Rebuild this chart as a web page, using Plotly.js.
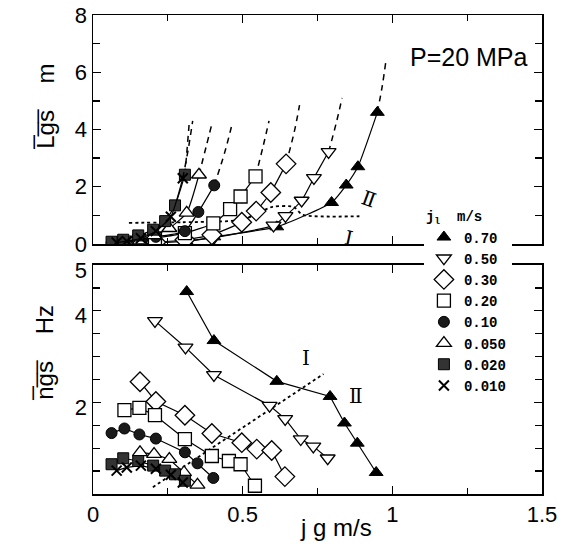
<!DOCTYPE html>
<html>
<head>
<meta charset="utf-8">
<script src="https://cdn.plot.ly/plotly-3.0.1.min.js"></script>
<style>html,body{margin:0;padding:0;background:#fff;}</style>
</head>
<body>
<div id="chart" style="width:570px;height:547px;"></div>
<script>
// ---- series labels (liquid superficial velocity j_l, m/s)
const seriesLabels = ['0.70', '0.50', '0.30', '0.20', '0.10', '0.050', '0.020', '0.010'];

// ---- lower panel: mean slug frequency n_gs (Hz) vs j_g (m/s)
const nX70 = [0.313, 0.404, 0.614, 0.792, 0.840, 0.883, 0.946];
const nY70 = [4.42, 3.35, 2.46, 2.13, 1.55, 1.11, 0.47];
const nX50 = [0.207, 0.309, 0.404, 0.590, 0.642, 0.694, 0.736, 0.784];
const nY50 = [3.78, 3.20, 2.60, 1.93, 1.64, 1.20, 1.04, 0.78];
const nX30 = [0.157, 0.210, 0.307, 0.397, 0.497, 0.547, 0.597, 0.641];
const nY30 = [2.45, 2.02, 1.72, 1.32, 1.12, 0.98, 0.95, 0.38];
const nX20 = [0.105, 0.155, 0.207, 0.307, 0.397, 0.454, 0.493, 0.541];
const nY20 = [1.83, 1.88, 1.72, 1.20, 0.83, 0.72, 0.65, 0.18];
const nX10 = [0.062, 0.105, 0.155, 0.210, 0.307, 0.349, 0.402];
const nY10 = [1.33, 1.43, 1.30, 1.21, 0.91, 0.67, 0.35];
const nX05 = [0.157, 0.204, 0.255, 0.304, 0.349];
const nY05 = [0.91, 0.87, 0.76, 0.47, 0.20];
const nX02 = [0.062, 0.101, 0.151, 0.201, 0.241, 0.274, 0.307];
const nY02 = [0.65, 0.78, 0.72, 0.62, 0.51, 0.43, 0.29];
const nX01 = [0.079, 0.113, 0.160, 0.210, 0.260, 0.300];
const nY01 = [0.51, 0.58, 0.62, 0.55, 0.42, 0.25];

// ---- upper panel: mean slug length L_gs (m) vs j_g (m/s)
const lX70 = [0.313, 0.404, 0.614, 0.797, 0.846, 0.885, 0.950];
const lY70 = [0.08, 0.25, 0.60, 1.45, 2.06, 2.70, 4.60];
const lX50 = [0.207, 0.309, 0.404, 0.603, 0.643, 0.697, 0.738, 0.787];
const lY50 = [0.03, 0.10, 0.22, 0.65, 0.98, 1.52, 2.31, 3.22];
const lX30 = [0.157, 0.210, 0.307, 0.397, 0.497, 0.545, 0.594, 0.645];
const lY30 = [0.03, 0.06, 0.15, 0.32, 0.76, 1.15, 1.80, 2.80];
const lX20 = [0.105, 0.155, 0.207, 0.307, 0.402, 0.458, 0.493, 0.543];
const lY20 = [0.05, 0.10, 0.20, 0.38, 0.72, 1.22, 1.66, 2.36];
const lX10 = [0.062, 0.105, 0.155, 0.210, 0.307, 0.352, 0.405];
const lY10 = [0.04, 0.08, 0.14, 0.25, 0.45, 1.12, 2.05];
const lX05 = [0.157, 0.204, 0.255, 0.313, 0.354];
const lY05 = [0.12, 0.30, 0.55, 1.09, 2.42];
const lX02 = [0.062, 0.101, 0.151, 0.201, 0.241, 0.274, 0.307];
const lY02 = [0.08, 0.15, 0.30, 0.50, 0.80, 1.35, 2.42];
const lX01 = [0.079, 0.113, 0.160, 0.210, 0.260, 0.300];
const lY01 = [0.05, 0.10, 0.20, 0.45, 0.95, 2.30];

// ---- upper panel: dashed extrapolations
const dX70 = [0.950, 0.966, 0.978], dY70 = [4.60, 5.50, 6.35];
const dX50 = [0.787, 0.812, 0.832], dY50 = [3.22, 4.20, 5.10];
const dX30 = [0.645, 0.672, 0.690], dY30 = [2.80, 3.90, 4.85];
const dX20 = [0.543, 0.568, 0.588], dY20 = [2.36, 3.40, 4.30];
const dX10 = [0.405, 0.440, 0.466], dY10 = [2.05, 3.20, 4.25];
const dX05 = [0.354, 0.378, 0.396], dY05 = [2.42, 3.40, 4.15];
const dX02 = [0.307, 0.315, 0.322], dY02 = [2.42, 3.40, 4.30];
const dX01 = [0.300, 0.318, 0.333], dY01 = [2.30, 3.30, 4.30];

// ---- regime boundaries (dotted)
const bTopX = [0.12, 0.30, 0.50, 0.60, 0.67, 0.70, 0.89];
const bTopY = [0.74, 0.76, 0.85, 1.30, 1.30, 1.02, 0.97];
const bBotX = [0.20, 0.77];
const bBotY = [0.15, 2.62];

// ---- axis ticks
const xTickVals = [0, 0.5, 1, 1.5];
const xTickText = ['0', '0.5', '1', '1.5'];
const lTickVals = [0, 2, 4, 6, 8];
const nTickVals = [2, 4, 5];

const nX = [nX70, nX50, nX30, nX20, nX10, nX05, nX02, nX01];
const nY = [nY70, nY50, nY30, nY20, nY10, nY05, nY02, nY01];
const lX = [lX70, lX50, lX30, lX20, lX10, lX05, lX02, lX01];
const lY = [lY70, lY50, lY30, lY20, lY10, lY05, lY02, lY01];
const dX = [dX70, dX50, dX30, dX20, dX10, dX05, dX02, dX01];
const dY = [dY70, dY50, dY30, dY20, dY10, dY05, dY02, dY01];

const markerStyles = [
  {symbol: 'triangle-up', color: '#000', size: 12, line: {color: '#000', width: 1}},
  {symbol: 'triangle-down', color: '#fff', size: 13, line: {color: '#000', width: 1.3}},
  {symbol: 'diamond', color: '#fff', size: 15, line: {color: '#000', width: 1.3}},
  {symbol: 'square', color: '#fff', size: 13, line: {color: '#000', width: 1.3}},
  {symbol: 'circle', color: '#1a1a1a', size: 11, line: {color: '#000', width: 1}},
  {symbol: 'triangle-up', color: '#fff', size: 13, line: {color: '#000', width: 1.3}},
  {symbol: 'square', color: '#333', size: 11, line: {color: '#000', width: 1}},
  {symbol: 'x-thin', color: '#000', size: 10, line: {color: '#000', width: 2}}
];

const traces = [];
traces.push({x: bTopX, y: bTopY, xaxis: 'x2', yaxis: 'y2', mode: 'lines', showlegend: false,
  line: {color: '#000', width: 1.8, dash: 'dot', shape: 'spline', smoothing: 0.6}, hoverinfo: 'skip'});
traces.push({x: bBotX, y: bBotY, xaxis: 'x', yaxis: 'y', mode: 'lines', showlegend: false,
  line: {color: '#000', width: 1.8, dash: 'dot'}, hoverinfo: 'skip'});

for (let i = 0; i < seriesLabels.length; i++) {
  traces.push({x: dX[i], y: dY[i], xaxis: 'x2', yaxis: 'y2', mode: 'lines', showlegend: false,
    line: {color: '#000', width: 1.5, dash: '6px,5px', shape: 'spline'}, hoverinfo: 'skip'});
  traces.push({x: lX[i], y: lY[i], xaxis: 'x2', yaxis: 'y2', mode: 'lines+markers', showlegend: false,
    legendgroup: 'g' + i, line: {color: '#000', width: 1.2, shape: 'spline', smoothing: 0.5},
    marker: markerStyles[i]});
  traces.push({x: nX[i], y: nY[i], xaxis: 'x', yaxis: 'y', mode: 'lines', showlegend: false,
    legendgroup: 'g' + i, line: {color: '#000', width: 1.2}, hoverinfo: 'skip'});
}
for (let i = 0; i < seriesLabels.length; i++) {
  traces.push({x: nX[i], y: nY[i], xaxis: 'x', yaxis: 'y', mode: 'markers', name: seriesLabels[i],
    legendgroup: 'g' + i, marker: markerStyles[i]});
}

const nb = n => '\u00a0'.repeat(n);
const axisCommon = {
  showline: true, linecolor: '#000', linewidth: 1.5, mirror: 'ticks',
  ticks: 'inside', ticklen: 8, tickwidth: 1.3, tickcolor: '#000',
  showgrid: false, zeroline: false,
  tickfont: {family: 'Liberation Sans, Arial, sans-serif', size: 22, color: '#000'}
};
const titleFont = {family: 'Liberation Sans, Arial, sans-serif', size: 24, color: '#000'};

const layout = {
  width: 570, height: 547,
  margin: {l: 93, r: 28, t: 15, b: 53},
  paper_bgcolor: '#fff', plot_bgcolor: '#fff',
  font: {family: 'Liberation Sans, Arial, sans-serif', size: 22, color: '#000'},
  showlegend: true,
  xaxis: Object.assign({}, axisCommon, {
    domain: [0, 1], anchor: 'y', range: [0, 1.5],
    tickvals: xTickVals, ticktext: xTickText,
    minor: {tick0: 0, dtick: 0.25, ticks: 'inside', ticklen: 6, tickcolor: '#000', showgrid: false}
  }),
  yaxis: Object.assign({}, axisCommon, {
    domain: [0, 0.4781], anchor: 'x', range: [0, 5],
    tickvals: nTickVals, ticktext: nTickVals.map(String), ticklabelshift: 5,
    minor: {tick0: 0, dtick: 0.5, ticks: 'inside', ticklen: 7, tickcolor: '#000', showgrid: false}
  }),
  xaxis2: Object.assign({}, axisCommon, {
    domain: [0, 1], anchor: 'y2', range: [0, 1.5], matches: 'x',
    tickvals: xTickVals, showticklabels: false,
    minor: {tick0: 0, dtick: 0.25, ticks: 'inside', ticklen: 6, tickcolor: '#000', showgrid: false}
  }),
  yaxis2: Object.assign({}, axisCommon, {
    domain: [0.5219, 1], anchor: 'x2', range: [0, 8],
    tickvals: lTickVals, ticktext: lTickVals.map(String),
    minor: {tick0: 0, dtick: 1, ticks: 'inside', ticklen: 7, tickcolor: '#000', showgrid: false}
  }),
  legend: {
    x: 0.737, xanchor: 'left', y: 0.607, yanchor: 'top',
    bgcolor: '#fff', borderwidth: 0, tracegroupgap: 0,
    font: {family: 'Liberation Mono, DejaVu Sans Mono, monospace', size: 14, color: '#000', weight: 'bold'},
    title: {text: 'j<sub>l</sub>\u00a0\u00a0m/s', font: {family: 'Liberation Mono, monospace', size: 14, weight: 'bold'}}
  },
  annotations: [
    {xref: 'paper', yref: 'paper', x: -0.107, y: 0.81, xanchor: 'center', yanchor: 'middle',
      text: 'L\u0305g\u0305s\u0305' + nb(4) + 'm', textangle: -90, showarrow: false, font: titleFont},
    {xref: 'paper', yref: 'paper', x: -0.107, y: 0.2965, xanchor: 'center', yanchor: 'middle',
      text: 'n\u0305g\u0305s\u0305' + nb(4) + 'Hz', textangle: -90, showarrow: false, font: titleFont},
    {xref: 'paper', yref: 'paper', x: 0.541, y: -0.069, xanchor: 'center', yanchor: 'middle',
      text: 'j g m/s', showarrow: false, font: titleFont},
    {xref: 'x2', yref: 'y2', x: 1.255, y: 6.55, text: 'P=20 MPa', showarrow: false,
      font: {size: 25, family: 'Liberation Sans, Arial, sans-serif'}},
    {xref: 'x2', yref: 'y2', x: 0.922, y: 1.57, text: '\u2161', showarrow: false, textangle: 20,
      font: {size: 20, family: 'DejaVu Serif, serif'}},
    {xref: 'x2', yref: 'y2', x: 0.855, y: 0.22, text: '\u2160', showarrow: false, textangle: 12,
      font: {size: 20, family: 'DejaVu Serif, serif'}},
    {xref: 'x', yref: 'y', x: 0.711, y: 2.97, text: '\u2160', showarrow: false,
      font: {size: 20, family: 'DejaVu Serif, serif'}},
    {xref: 'x', yref: 'y', x: 0.879, y: 2.13, text: '\u2161', showarrow: false,
      font: {size: 20, family: 'DejaVu Serif, serif'}}
  ]
};

Plotly.newPlot('chart', traces, layout, {displayModeBar: false, staticPlot: true});
</script>
</body>
</html>
